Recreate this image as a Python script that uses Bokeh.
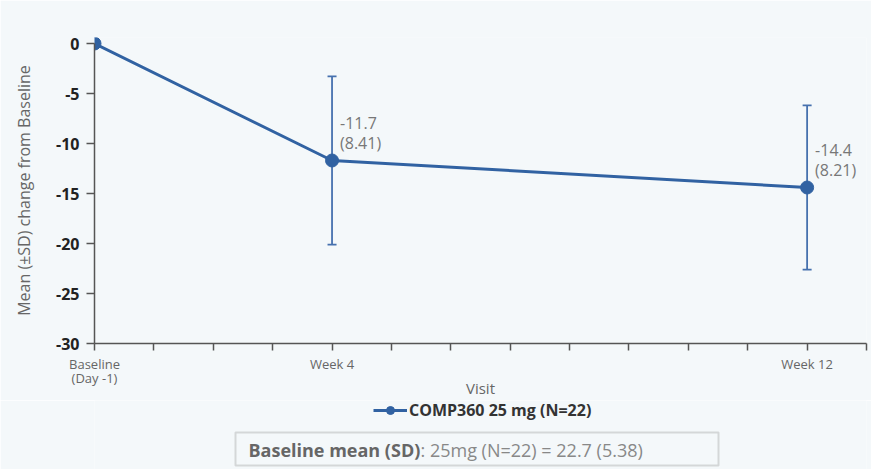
from bokeh.plotting import figure
from bokeh.models import (FixedTicker, Legend, LegendItem, Label,
                          Whisker, ColumnDataSource, Range1d, TeeHead, BoxAnnotation)
from bokeh.layouts import column
from bokeh.core.properties import value
from bokeh.embed import file_html
from bokeh.resources import INLINE

# ---- data ----
visit_labels = ["Baseline\n(Day -1)", "Week 4", "Week 12"]
visit_weeks = [0, 4, 12]
mean_change = [0.0, -11.7, -14.4]
sd_change = [0.0, 8.41, 8.21]
other_weeks = [1, 2, 3, 5, 6, 7, 8, 9, 10, 11, 13]
y_ticks = [0, -5, -10, -15, -20, -25, -30]
y_tick_labels = ["0", "-5", "-10", "-15", "-20", "-25", "-30"]
series_name = "COMP360 25 mg (N=22)"
baseline_bold = "Baseline mean (SD)"
baseline_rest = ": 25mg (N=22) = 22.7 (5.38)"
x_title = "Visit"
y_title = "Mean (\u00b1SD) change from Baseline"

FONT = "Open Sans"
BLUE = "#3162a2"
BAR = "#4671ae"
BG = "#f4f8fa"
AX = "#555555"

W = 871
H1 = 400
H2 = 69

p = figure(width=W, height=H1, x_range=Range1d(0, 13), y_range=Range1d(-30, 0.6),
           output_backend="svg", toolbar_location=None,
           min_border_left=94, min_border_right=5, min_border_top=37, min_border_bottom=55)
p.background_fill_color = BG
p.border_fill_color = BG
p.outline_line_color = None
p.xgrid.visible = False
p.ygrid.visible = False

# axes
xa = p.xaxis[0]
xa.ticker = FixedTicker(ticks=visit_weeks, minor_ticks=other_weeks)
xa.major_label_overrides = {w: l for w, l in zip(visit_weeks, visit_labels)}
xa.major_tick_out = 7
xa.major_tick_in = 0
xa.minor_tick_out = 7
xa.minor_tick_in = 0
for attr in ("axis_line", "major_tick_line", "minor_tick_line"):
    setattr(xa, attr + "_color", AX)
    setattr(xa, attr + "_width", 1.5)
xa.major_label_text_font = FONT
xa.major_label_text_font_size = "13px"
xa.major_label_text_color = "#666666"
xa.major_label_text_line_height = 0.8
xa.major_label_standoff = 4
xa.axis_label = x_title
xa.axis_label_text_font = FONT
xa.axis_label_text_font_size = "15px"
xa.axis_label_text_font_style = "normal"
xa.axis_label_text_color = "#666666"
xa.axis_label_standoff = -12

ya = p.yaxis[0]
ya.ticker = FixedTicker(ticks=y_ticks, minor_ticks=[])
ya.major_label_overrides = {v: l for v, l in zip(y_ticks, y_tick_labels)}
ya.bounds = (-30, 0)
ya.major_tick_out = 8
ya.major_tick_in = 0
for attr in ("axis_line", "major_tick_line"):
    setattr(ya, attr + "_color", AX)
    setattr(ya, attr + "_width", 1.5)
ya.major_label_text_font = FONT
ya.major_label_text_font_size = "16px"
ya.major_label_text_font_style = "bold"
ya.major_label_text_color = "#222222"
ya.major_label_standoff = 7
ya.axis_label = y_title
ya.axis_label_text_font = FONT
ya.axis_label_text_font_size = "16px"
ya.axis_label_text_font_style = "normal"
ya.axis_label_text_color = "#666666"
ya.axis_label_standoff = 18

# error bars (post-baseline visits)
eb = ColumnDataSource(dict(
    x=visit_weeks[1:],
    upper=[m + s for m, s in zip(mean_change[1:], sd_change[1:])],
    lower=[m - s for m, s in zip(mean_change[1:], sd_change[1:])],
))
wh = Whisker(source=eb, base="x", upper="upper", lower="lower",
             line_color=BAR, line_width=1.8,
             upper_head=TeeHead(size=9, line_color=BAR, line_width=1.8),
             lower_head=TeeHead(size=9, line_color=BAR, line_width=1.8))
p.add_layout(wh)

p.line(visit_weeks, mean_change, line_width=3, line_color=BLUE)
p.scatter(visit_weeks, mean_change, size=13, fill_color=BLUE, line_color=BLUE)

# value labels
lab = ColumnDataSource(dict(
    x=visit_weeks[1:], y=mean_change[1:],
    t=[f"{m}\n({s})" for m, s in zip(mean_change[1:], sd_change[1:])],
))
p.text(x="x", y="y", text="t", source=lab, x_offset=8, y_offset=-6,
       text_baseline="bottom", text_align="left", text_font=value(FONT),
       text_font_size="16px", text_color="#777777", text_line_height=0.95)

# ---- legend + baseline box strip (frame aligned with chart frame; x in page px) ----
pb = figure(width=W, height=H2, x_range=Range1d(94, 866), y_range=Range1d(0, H2),
            output_backend="svg", toolbar_location=None,
            min_border_left=94, min_border_right=5, min_border_top=0, min_border_bottom=0)
pb.axis.visible = False
pb.grid.visible = False
pb.outline_line_color = None
pb.background_fill_color = BG
pb.border_fill_color = BG

# the series drawn again here only as the legend key (falls outside this strip's view)
key_line = pb.line(visit_weeks, mean_change, line_width=3, line_color=BLUE)
key_dot = pb.scatter(visit_weeks, mean_change, size=13, fill_color=BLUE, line_color=BLUE)
legend = Legend(items=[LegendItem(label=series_name, renderers=[key_line, key_dot])],
                location=(277, 46), orientation="horizontal",
                border_line_alpha=0, background_fill_alpha=0,
                label_text_font=FONT, label_text_font_style="bold",
                label_text_font_size="16px", label_text_color="#333333",
                glyph_width=34, glyph_height=20, label_standoff=2,
                padding=2, margin=0)
pb.add_layout(legend)

pb.add_layout(BoxAnnotation(left=235, right=718, top=37, bottom=4,
                            fill_alpha=0, line_color="#8a8a8a", line_width=2))
pb.add_layout(Label(x=248, y=20, text=baseline_bold,
                    text_font=FONT, text_font_style="bold", text_font_size="18px",
                    text_color="#666666", text_baseline="middle"))
pb.add_layout(Label(x=420, y=20, text=baseline_rest,
                    text_font=FONT, text_font_size="18px",
                    text_color="#888888", text_baseline="middle"))

layout = column(p, pb, spacing=0)
html = file_html(layout, INLINE)
open("out.html", "w").write(html)
